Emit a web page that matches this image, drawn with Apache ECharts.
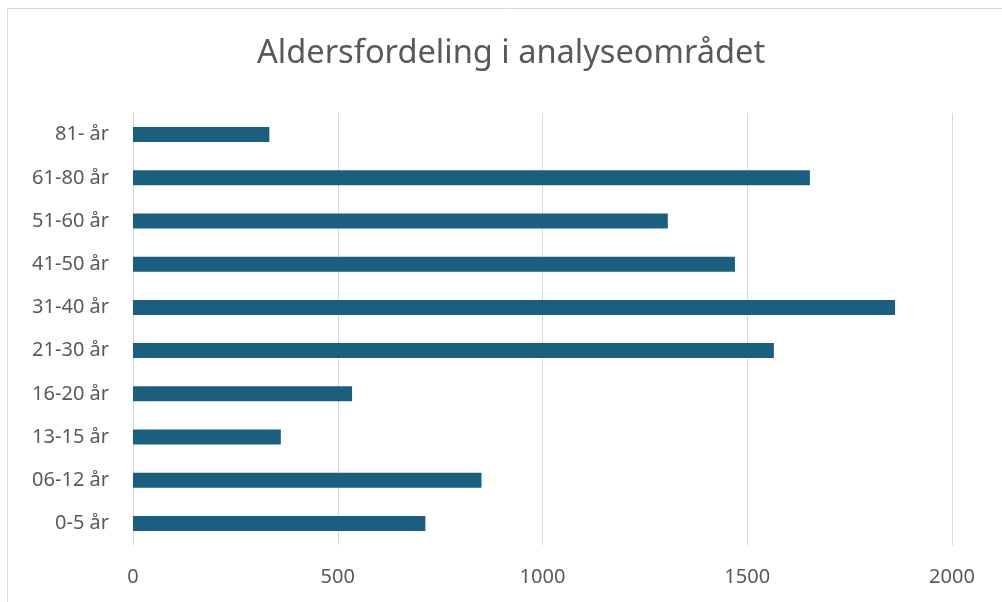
<!DOCTYPE html>
<html><head><meta charset="utf-8">
<script src="https://cdn.jsdelivr.net/npm/echarts@6/dist/echarts.min.js"></script>
<style>html,body{margin:0;padding:0;background:#fff}#c{width:1002px;height:602px}</style>
</head><body><div id="c"></div>
<script>
const categories = ['0-5 år','06-12 år','13-15 år','16-20 år','21-30 år','31-40 år','41-50 år','51-60 år','61-80 år','81- år'];
const values = [714, 851, 361, 535, 1565, 1861, 1470, 1306, 1653, 333];
const xTicks = [0, 500, 1000, 1500, 2000];
const title = 'Aldersfordeling i analyseområdet';

const chart = echarts.init(document.getElementById('c'));
chart.setOption({
  backgroundColor: '#fff',
  animation: false,
  title: {
    text: title, left: 252, top: 32,
    textStyle: {fontFamily: 'Noto Sans', fontWeight: 'normal', fontSize: 32.6, color: '#595959'}
  },
  graphic: [
    {type: 'line', shape: {x1: 7.5, y1: 8.5, x2: 7.5, y2: 602}, style: {stroke: '#d9d9d9', lineWidth: 1}},
    {type: 'line', shape: {x1: 7.5, y1: 8.5, x2: 1002, y2: 8.5}, style: {stroke: '#d9d9d9', lineWidth: 1}}
  ],
  grid: {left: 133, right: 50, top: 113, bottom: 57, containLabel: false},
  xAxis: {
    type: 'value', min: xTicks[0], max: xTicks[xTicks.length - 1], interval: 500,
    axisLine: {show: false}, axisTick: {show: false},
    splitLine: {lineStyle: {color: '#d9d9d9', width: 1}},
    axisLabel: {fontFamily: 'Noto Sans', fontSize: 20, color: '#595959', margin: 22,
      formatter: v => String(v)}
  },
  yAxis: {
    type: 'category', data: categories,
    axisLine: {show: true, lineStyle: {color: '#d9d9d9'}}, axisTick: {show: false},
    axisLabel: {fontFamily: 'Noto Sans', fontSize: 20, color: '#595959', margin: 24}
  },
  series: [{
    type: 'bar', data: values, barWidth: 15,
    itemStyle: {color: '#1a5e80'}
  }]
});
</script></body></html>
